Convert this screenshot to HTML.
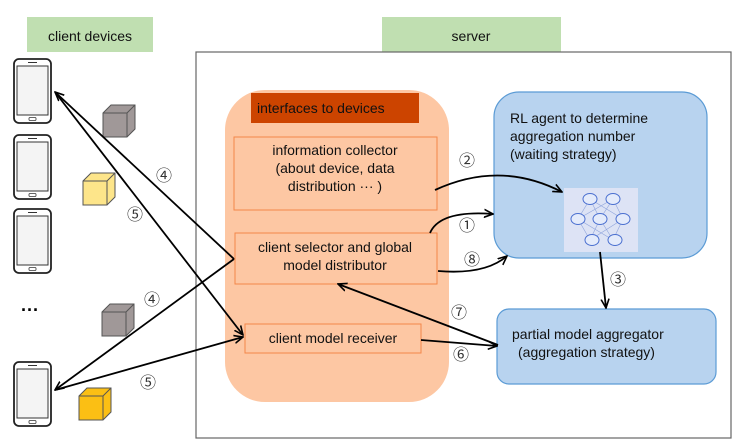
<!DOCTYPE html>
<html><head><meta charset="utf-8"><style>
html,body{margin:0;padding:0;background:#fff;}
svg{display:block;font-family:"Liberation Sans","Noto Sans CJK SC",sans-serif;}
</style></head><body>
<svg width="735" height="442" viewBox="0 0 735 442" xmlns="http://www.w3.org/2000/svg">
<defs>
<marker id="a" markerWidth="10" markerHeight="10" refX="9" refY="5" orient="auto" markerUnits="userSpaceOnUse">
<path d="M0,1 L9,5 L0,9" fill="none" stroke="#000" stroke-width="1.6"/></marker>
<g id="ph">
<rect x="0" y="0" width="37" height="64" rx="5" fill="#fff" stroke="#222" stroke-width="1.8"/>
<rect x="3" y="7" width="31" height="49" fill="#f4f4f4" stroke="#333" stroke-width="1"/>
<line x1="14" y1="3.5" x2="23" y2="3.5" stroke="#333" stroke-width="1"/>
<rect x="15" y="58.5" width="7" height="3" rx="1" fill="none" stroke="#333" stroke-width="0.8"/>
</g>
<g id="cube">
<path d="M0,8 L8,0 L32,0 L32,24 L24,32 L0,32 Z" stroke="#555" stroke-width="1"/>
<path d="M0,8 L24,8 L32,0 M24,8 L24,32" fill="none" stroke="#555" stroke-width="1"/>
</g>
</defs>
<rect x="27" y="17" width="126" height="35" fill="#c0dfb1"/>
<text x="90" y="41" font-size="14" text-anchor="middle" fill="#111">client devices</text>
<rect x="382" y="17" width="179" height="35" fill="#c0dfb1"/>
<text x="471" y="41" font-size="14" text-anchor="middle" fill="#111">server</text>
<rect x="196" y="52" width="535" height="386" fill="#fff" stroke="#666" stroke-width="1.2"/>
<use href="#ph" x="14" y="59"/><use href="#ph" x="14" y="135"/><use href="#ph" x="14" y="209"/><use href="#ph" x="14" y="362"/>
<text x="30" y="316" font-size="18" font-weight="bold" text-anchor="middle">···</text>
<use href="#cube" x="103" y="105" fill="#a09898"/>
<use href="#cube" x="83" y="173" fill="#fde58a"/>
<use href="#cube" x="102" y="304" fill="#a09898"/>
<use href="#cube" x="79" y="388" fill="#fbbf14"/>
<rect x="225" y="90" width="224" height="312" rx="40" fill="#fdc7a3"/>
<rect x="251" y="93" width="168" height="30" fill="#cc4400"/>
<text x="257" y="113" font-size="14" fill="#111">interfaces to devices</text>
<rect x="234" y="137" width="203" height="73" fill="none" stroke="#f4874a" stroke-width="1"/>
<text font-size="14" text-anchor="middle" fill="#111"><tspan x="335" y="155">information collector</tspan><tspan x="335" y="173">(about device, data</tspan><tspan x="335" y="191">distribution ··· )</tspan></text>
<rect x="235" y="233" width="202" height="51" fill="none" stroke="#f4874a" stroke-width="1"/>
<text font-size="14" text-anchor="middle" fill="#111"><tspan x="335" y="252">client selector and global</tspan><tspan x="335" y="270">model distributor</tspan></text>
<rect x="245" y="324" width="176" height="29" fill="none" stroke="#f4874a" stroke-width="1"/>
<text x="333" y="343" font-size="14" text-anchor="middle" fill="#111">client model receiver</text>
<rect x="494" y="92" width="213" height="166" rx="25" fill="#b8d3ef" stroke="#5b9bd5" stroke-width="1.2"/>
<text font-size="14" fill="#111"><tspan x="510" y="123">RL agent to determine</tspan><tspan x="510" y="141">aggregation number</tspan><tspan x="510" y="159">(waiting strategy)</tspan></text>
<rect x="564" y="188" width="74" height="64" fill="#dde3f5"/>
<path fill="none" stroke="#8fa4dc" stroke-width="0.6" d="M590,199 L578,219 L590,240 M590,199 L600,219 L613,240 M613,199 L600,219 L590,240 M613,199 L623,219 L613,240 M590,199 L623,219 M613,199 L578,219 M578,219 L613,240 M623,219 L590,240"/>
<g fill="#e4ebfb" stroke="#4a6fd0" stroke-width="1">
<ellipse cx="590" cy="199" rx="7" ry="5.5"/><ellipse cx="613" cy="199" rx="7" ry="5.5"/>
<ellipse cx="578" cy="219" rx="7" ry="5.5"/><ellipse cx="600" cy="219" rx="7" ry="5.5"/><ellipse cx="623" cy="219" rx="7" ry="5.5"/>
<ellipse cx="592" cy="240" rx="7" ry="5.5"/><ellipse cx="615" cy="240" rx="7" ry="5.5"/>
</g>
<rect x="497" y="309" width="219" height="75" rx="12" fill="#b8d3ef" stroke="#5b9bd5" stroke-width="1.2"/>
<text font-size="14" fill="#111"><tspan x="512" y="339">partial model aggregator</tspan><tspan x="518" y="357">(aggregation strategy)</tspan></text>
<g stroke="#000" stroke-width="1.8" fill="none" marker-end="url(#a)">
<path d="M234,259 L55,92"/>
<path d="M234,259 L55,390"/>
<path d="M55,92 L243,335"/>
<path d="M55,390 L243,337"/>
<path d="M435,190 Q500,160 562,192"/>
<path d="M430,233 Q440,210 493,214"/>
<path d="M438,271 Q485,275 507,256"/>
<path d="M600,252 L606,308"/>
<path d="M498,345 L338,284"/>
<path d="M421,340 L497,346"/>
</g>
<g font-size="16" text-anchor="middle" fill="#333">
<text x="164" y="181">④</text><text x="135" y="220">⑤</text>
<text x="152" y="305">④</text><text x="148" y="388">⑤</text>
<text x="467" y="166">②</text><text x="467" y="231">①</text><text x="472" y="265">⑧</text>
<text x="618" y="285">③</text><text x="459" y="318">⑦</text><text x="461" y="360">⑥</text>
</g>
</svg>
</body></html>
